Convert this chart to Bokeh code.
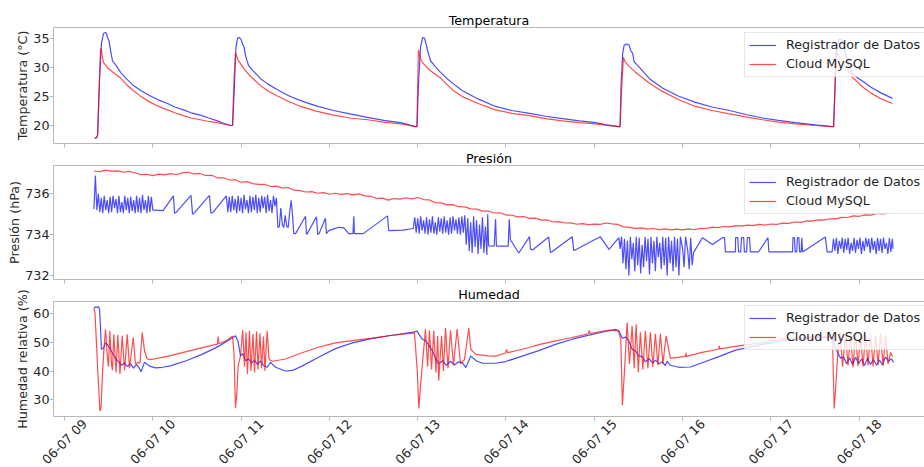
import math
from datetime import datetime, timedelta

from bokeh.plotting import figure
from bokeh.layouts import column
from bokeh.models import (ColumnDataSource, Range1d, FixedTicker, LinearAxis,
                          Legend, LegendItem, GlobalInlineStyleSheet)
from bokeh.embed import file_html
from bokeh.resources import INLINE

# ---------------------------------------------------------------- data
T0 = datetime(2023, 6, 7, 9, 0)          # reference time (06-07 09:00)

tick_hours = [0, 1, 2, 3, 4, 5, 6, 7, 8, 9]
tick_labels = ["06-07 09", "06-07 10", "06-07 11", "06-07 12", "06-07 13",
               "06-07 14", "06-07 15", "06-07 16", "06-07 17", "06-07 18"]

temp_ticks = [20, 25, 30, 35]
pres_ticks = [732, 734, 736]
hum_ticks = [30, 40, 50, 60]

# (minutes after 09:00, value)
temp_registrador = [
    (20.4, 17.8), (21.8, 17.9), (22.5, 18.3), (23.8, 28.0), (25.1, 34.2), (26.5, 35.9),
    (27.9, 36.1), (28.6, 35.9), (29.2, 35.2), (30.3, 34.6), (31.3, 33.0), (32.6, 31.2),
    (35.0, 30.4), (38.1, 29.2), (42.0, 28.1), (46.9, 26.9), (52.0, 26.0), (58.4, 25.1),
    (64.0, 24.4), (70.0, 23.8), (75.0, 23.2), (80.9, 22.7), (86.0, 22.2), (92.4, 21.8),
    (98.0, 21.3), (104.0, 20.8), (108.0, 20.4), (112.8, 20.0),
    (114.2, 20.0), (115.5, 27.0), (116.5, 33.5), (117.6, 35.1), (118.9, 35.2), (120.0, 34.9),
    (121.0, 34.1), (122.0, 33.6), (123.0, 32.1), (125.0, 30.4), (128.0, 29.5), (133.2, 28.1),
    (138.0, 27.2), (144.7, 26.2), (152.0, 25.2), (160.4, 24.3), (171.0, 23.4), (182.8, 22.6),
    (194.0, 22.0), (205.9, 21.4), (217.0, 20.9), (228.3, 20.5), (234.0, 20.1), (238.5, 19.8),
    (239.5, 19.8), (240.5, 27.0), (241.9, 33.5), (243.3, 35.2), (244.6, 35.1), (245.6, 34.2),
    (246.7, 33.0), (248.7, 31.2), (252.0, 30.2), (255.5, 29.2), (260.0, 28.1), (264.3, 27.2),
    (270.4, 26.0), (281.0, 24.6), (292.9, 23.3), (304.0, 22.6), (316.0, 22.1), (327.0, 21.6),
    (338.4, 21.2), (350.0, 20.8), (360.8, 20.5), (368.0, 20.1), (376.5, 19.8),
    (377.5, 19.8), (378.2, 27.0), (379.3, 32.5), (380.3, 33.9), (382.0, 34.1), (383.7, 33.9),
    (384.8, 32.9), (386.0, 32.5), (387.1, 31.0), (390.5, 30.1), (397.5, 28.1), (406.3, 26.5),
    (417.0, 25.1), (428.8, 24.0), (440.0, 23.2), (451.9, 22.6), (463.0, 21.9), (474.3, 21.3),
    (485.0, 20.9), (496.7, 20.5), (510.0, 20.1), (521.9, 19.8),
    (522.6, 19.8), (523.5, 26.0), (524.5, 33.0), (526.0, 34.8), (527.5, 35.0), (529.0, 34.3),
    (531.0, 32.0), (533.0, 30.2), (535.4, 28.9), (538.5, 28.3), (542.2, 27.7), (548.0, 26.6),
    (555.0, 25.6), (562.6, 24.7),
]

temp_cloud = [
    (20.4, 17.8), (21.8, 17.9), (22.5, 18.3), (23.8, 28.0), (24.5, 33.3), (25.1, 33.0),
    (25.8, 31.8), (26.5, 30.9), (29.2, 30.0), (33.0, 29.2), (38.1, 28.2), (42.0, 27.1),
    (46.9, 26.0), (52.0, 25.0), (58.4, 24.0), (64.0, 23.3), (70.0, 22.7), (75.0, 22.2),
    (80.9, 21.7), (86.0, 21.3), (92.4, 21.0), (98.0, 20.7), (104.0, 20.5), (112.8, 20.0),
    (114.2, 20.0), (115.2, 28.0), (116.2, 32.6), (117.0, 32.0), (118.0, 31.3), (119.6, 30.7),
    (122.0, 29.8), (126.0, 28.6), (133.2, 26.9), (138.0, 26.0), (144.7, 25.1), (152.0, 24.2),
    (160.4, 23.3), (171.0, 22.5), (182.8, 21.8), (194.0, 21.3), (205.9, 21.0), (217.0, 20.6),
    (228.3, 20.3), (238.5, 19.8),
    (239.5, 19.8), (240.0, 27.0), (240.5, 33.1), (241.3, 32.2), (242.5, 31.2), (243.9, 30.7),
    (248.0, 29.6), (255.5, 28.2), (264.3, 26.0), (270.4, 25.0), (281.0, 23.8), (292.9, 22.7),
    (304.0, 22.1), (316.0, 21.7), (327.0, 21.2), (338.4, 20.8), (350.0, 20.5), (360.8, 20.3),
    (376.5, 19.8),
    (377.5, 19.8), (378.5, 26.0), (379.8, 31.8), (381.0, 31.0), (383.0, 30.4), (388.0, 29.2),
    (397.5, 27.3), (406.3, 25.9), (417.0, 24.5), (428.8, 23.3), (440.0, 22.6), (451.9, 22.0),
    (463.0, 21.5), (474.3, 21.0), (485.0, 20.6), (496.7, 20.3), (510.0, 20.0), (521.9, 19.8),
    (522.6, 19.8), (523.5, 26.0), (524.3, 32.8), (525.5, 32.3), (527.5, 31.5), (531.0, 30.0),
    (535.4, 28.3), (538.5, 27.6), (542.2, 26.7), (548.0, 25.6), (555.0, 24.6), (562.6, 23.8),
]

pres_registrador = [
    (20, 735.25), (21, 736.9), (22, 735.2), (23, 736.0), (24, 735.1), (25, 735.8), (26, 735.05),
    (27, 735.9), (28, 735.2), (29, 735.7), (30, 735.05), (31, 735.85), (32, 735.1), (33, 735.9),
    (34, 735.3), (35, 735.75), (36, 735.05), (37, 735.9), (38, 735.1), (39, 735.6), (40, 735.05),
    (41, 735.9), (42, 735.2), (43, 735.8), (44, 735.05), (45, 735.85), (46, 735.15), (47, 735.7),
    (48, 735.05), (49, 735.9), (50, 735.1), (51, 735.8), (52, 735.05), (53, 735.95), (54, 735.2),
    (55, 735.7), (56, 735.05), (57, 735.9), (58, 735.1), (59, 735.85), (60, 735.2),
    (61, 735.2), (67, 735.18), (74, 735.9), (74.8, 735.05), (76, 735.1), (86, 735.92),
    (87, 735.0), (88, 735.05), (98.5, 735.92), (99.5, 735.05), (101, 735.1), (110, 735.9),
    (111, 735.1),
    (112, 735.85), (113, 735.1), (114, 735.9), (115, 735.2), (116, 735.75), (117, 735.05),
    (118, 735.9), (119, 735.15), (120, 735.8), (121, 735.05), (122, 735.95), (123, 735.25),
    (124, 735.7), (125, 735.05), (126, 735.9), (127, 735.1), (128, 735.85), (129, 735.2),
    (130, 735.95), (131, 735.05), (132, 735.8), (133, 735.1), (134, 735.9), (135, 735.3),
    (136, 735.85), (137, 735.05), (138, 735.95), (139, 735.15), (140, 735.7), (141, 735.05),
    (142, 735.9), (143, 735.4),
    (144, 735.8), (145, 734.35), (146, 734.4), (147, 735.3), (148, 734.5), (149, 734.35),
    (150, 734.95), (151, 734.4), (152, 734.35), (153, 735.1), (154, 735.68), (155, 734.9),
    (155.8, 734.05),
    (157, 734.05), (163.8, 734.9), (164.4, 734.02), (165, 734.05), (171.2, 734.88),
    (172.1, 734.0), (173, 734.05), (177.3, 734.8), (178, 734.05), (179.6, 734.2), (183, 734.28),
    (186.4, 734.36), (189.8, 734.33), (193.2, 734.05), (196, 734.05), (196.6, 734.9),
    (197, 734.05), (203, 734.05),
    (219.5, 734.92), (220.3, 734.2), (230, 734.22), (237, 734.3),
    (238, 734.85), (239, 734.1), (240, 734.8), (241, 734.05), (242, 734.9), (243, 734.2),
    (244, 734.7), (245, 734.05), (246, 734.85), (247, 734.0), (248, 734.75), (249, 734.1),
    (250, 734.9), (251, 734.05), (252, 734.6), (253, 734.0), (254, 734.85), (255, 734.15),
    (256, 734.8), (257, 734.05), (258, 734.9), (259, 734.1), (260, 734.7), (261, 734.0),
    (262, 734.85), (263, 734.05), (264, 734.9), (265, 734.2), (266, 734.75), (267, 734.05),
    (268, 734.85), (269, 734.0), (270, 734.9), (271, 734.1),
    (272, 734.95), (273, 733.5), (274, 734.8), (275, 733.2), (276, 734.6), (277, 733.1),
    (278, 734.9), (279, 733.4), (280, 734.7), (281, 733.05), (282, 734.5), (283, 733.3),
    (284, 734.85), (285, 733.1), (286, 734.4), (287, 733.0), (287.6, 735.0), (288.2, 733.45),
    (292, 733.44), (292.9, 734.75), (293.5, 733.44), (301.5, 733.44), (302.2, 734.75),
    (303, 733.75), (308.7, 733.1), (316, 733.9), (316.6, 733.3), (318, 733.25), (329, 733.88),
    (330.2, 733.12), (331, 733.15), (345, 733.9), (346, 733.23), (347, 733.25), (364, 733.9),
    (370, 733.28), (376.7, 733.85),
    (377.5, 733.3), (378.5, 733.9), (379.5, 732.6), (380.5, 733.8), (381.5, 732.3),
    (382.5, 733.7), (383.5, 732.0), (384.5, 733.9), (385.5, 732.8), (386.5, 733.6),
    (387.5, 732.2), (388.5, 733.9), (389.5, 732.5), (390.5, 733.85), (391.5, 732.1),
    (392.5, 733.5), (393.5, 732.4), (394.5, 733.9), (395.5, 732.7), (396.5, 733.8),
    (397.5, 732.05), (398.5, 733.9), (399.5, 732.6), (400.5, 733.7), (401.5, 732.2),
    (402.5, 733.9), (403.5, 732.9), (404.5, 733.6), (405.5, 732.3), (406.5, 733.9),
    (407.5, 732.5), (408.5, 733.85), (409.5, 732.0), (410.5, 733.9), (411.5, 732.6),
    (412.5, 733.7), (413.5, 732.2), (414.5, 733.9), (415.5, 732.4), (416.5, 733.8),
    (417.5, 732.0), (418.5, 733.9), (420, 733.3), (421, 732.4), (422, 733.9), (423.5, 733.2),
    (424.5, 732.3), (425.5, 733.85), (426.5, 732.5),
    (427.4, 733.12), (433.5, 733.85), (440.3, 733.52), (447, 733.85), (448.5, 733.85),
    (449.1, 733.15), (455.9, 733.15),
    (456, 733.85), (457.5, 733.85), (458, 733.15), (459.5, 733.15), (460, 733.85),
    (461.5, 733.85), (462, 733.15), (463.5, 733.15), (464, 733.85), (465.5, 733.85),
    (466, 733.15),
    (471.6, 733.15), (478, 733.85), (478.6, 733.15), (494.7, 733.15),
    (495, 733.85), (496, 733.85), (496.5, 733.15), (497.5, 733.15), (498, 733.85),
    (499, 733.85), (499.5, 733.15), (500.5, 733.15), (501, 733.85), (501.5, 733.15),
    (517, 733.88), (518.2, 733.15), (521.6, 733.15),
    (522.5, 733.8), (523.5, 733.2), (524.5, 733.85), (525.5, 733.05), (526.5, 733.7),
    (527.5, 733.3), (528.5, 733.85), (529.5, 733.1), (530.5, 733.8), (531.5, 733.25),
    (532.5, 733.85), (533.5, 733.05), (534.5, 733.6), (535.5, 733.2), (536.5, 733.85),
    (537.5, 733.1), (538.5, 733.75), (539.5, 733.3), (540.5, 733.85), (541.5, 733.05),
    (542.5, 733.7), (543.5, 733.2), (544.5, 733.85), (545.5, 733.4), (546.5, 733.8),
    (547.5, 733.1), (548.5, 733.85), (549.5, 733.25), (550.5, 733.7), (551.5, 733.05),
    (552.5, 733.85), (553.5, 733.2), (554.5, 733.8), (555.5, 733.1), (556.5, 733.85),
    (557.5, 733.3), (558.5, 733.6), (559.5, 733.05), (560.5, 733.85), (561.5, 733.15),
    (562.5, 733.8), (563, 733.3),
]

pres_cloud = [
    (20, 737.12), (24, 737.09), (28, 737.16), (32, 737.11), (36, 737.13), (40, 737.06),
    (44, 737.10), (48, 737.02), (52, 736.94), (56, 736.96), (60, 736.89), (64, 736.97),
    (68, 736.93), (72, 736.99), (76, 736.95), (80, 737.03), (84, 737.06), (88, 736.98),
    (92, 737.00), (96, 736.90), (100, 736.91), (104, 736.78), (108, 736.79), (112, 736.68),
    (116, 736.69), (120, 736.57), (124, 736.60), (128, 736.50), (132, 736.46), (136, 736.47),
    (140, 736.36), (144, 736.38), (148, 736.28), (152, 736.31), (156, 736.18), (160, 736.16),
    (164, 736.09), (168, 736.11), (172, 736.03), (176, 736.06), (180, 735.98), (184, 736.03),
    (188, 735.97), (192, 736.01), (196, 735.95), (200, 736.00), (204, 735.90), (208, 735.88),
    (212, 735.77), (216, 735.79), (220, 735.69), (224, 735.77), (228, 735.74), (232, 735.81),
    (236, 735.75), (240, 735.82), (244, 735.72), (248, 735.70), (252, 735.57), (256, 735.56),
    (260, 735.46), (264, 735.47), (268, 735.37), (272, 735.36), (276, 735.26), (280, 735.25),
    (284, 735.15), (288, 735.16), (292, 735.06), (296, 735.07), (300, 734.96), (304, 734.95),
    (308, 734.87), (312, 734.89), (316, 734.80), (320, 734.81), (324, 734.71), (328, 734.72),
    (332, 734.62), (336, 734.64), (340, 734.57), (344, 734.58), (348, 734.51), (352, 734.54),
    (356, 734.49), (360, 734.52), (364, 734.50), (368, 734.57), (372, 734.53), (376, 734.50),
    (380, 734.38), (384, 734.36), (388, 734.31), (392, 734.33), (396, 734.27), (400, 734.30),
    (404, 734.25), (408, 734.28), (412, 734.23), (416, 734.27), (420, 734.23), (424, 734.28),
    (428, 734.24), (432, 734.31), (436, 734.30), (440, 734.37), (444, 734.34), (448, 734.40),
    (452, 734.38), (456, 734.44), (460, 734.42), (464, 734.47), (468, 734.44), (472, 734.50),
    (476, 734.47), (480, 734.52), (484, 734.50), (488, 734.56), (492, 734.55), (496, 734.62),
    (500, 734.60), (504, 734.67), (508, 734.66), (512, 734.72), (516, 734.71), (520, 734.78),
    (524, 734.77), (528, 734.85), (532, 734.84), (536, 734.92), (540, 734.90), (544, 734.97),
    (548, 734.96), (552, 735.04), (556, 735.02), (560, 735.05),
]

hum_registrador = [
    (19.9, 62.0), (21.1, 62.3), (23.3, 62.4), (23.8, 61.5), (24.5, 55.0), (25.1, 47.6),
    (26.5, 48.0), (27.9, 49.8), (29.2, 49.2), (31.3, 47.5), (33.3, 45.5), (35.3, 44.0),
    (36.9, 43.2), (38.7, 42.0), (40.8, 42.8), (42.8, 41.5), (44.8, 42.6), (46.9, 41.0),
    (48.9, 42.3), (51.0, 40.8), (52.0, 39.7), (54.4, 43.1), (56.4, 42.2), (58.4, 41.6),
    (61.8, 41.1), (66.6, 41.3), (72.0, 41.8), (82.2, 43.5), (93.8, 45.9), (104.6, 48.6),
    (114.2, 51.6), (116.2, 52.3), (118.0, 50.2), (119.6, 45.3), (121.2, 46.0), (123.0, 43.6),
    (125.0, 44.3), (127.1, 42.8), (129.1, 43.8), (131.1, 42.3), (133.2, 43.5), (135.2, 41.9),
    (137.7, 41.3), (140.0, 43.0), (143.4, 41.3), (150.2, 40.0), (154.9, 40.2), (161.7, 41.8),
    (172.6, 44.8), (184.1, 47.8), (195.7, 49.8), (207.9, 51.2), (221.5, 52.4), (237.1, 53.6),
    (239.7, 53.9), (241.2, 52.5), (243.1, 51.1), (245.3, 50.6), (247.3, 49.2), (249.9, 47.1),
    (252.1, 44.5), (254.3, 42.5), (256.9, 43.6), (259.6, 42.0), (262.3, 43.4), (265.0, 42.1),
    (267.7, 43.2), (270.4, 42.9), (272.7, 41.2), (276.1, 45.2), (280.0, 43.5), (284.0, 42.7),
    (292.9, 42.7), (299.7, 43.3), (311.0, 45.2), (322.3, 47.1), (333.6, 49.3), (345.0, 51.1),
    (356.3, 52.5), (367.6, 53.8), (374.7, 54.5), (376.7, 54.0), (379.0, 51.5), (381.4, 51.8),
    (383.4, 50.5), (385.7, 47.6), (388.1, 47.0), (390.1, 45.3), (392.7, 45.0), (394.7, 43.2),
    (397.2, 44.3), (399.5, 42.8), (401.7, 43.8), (404.0, 42.5), (406.3, 43.2), (408.3, 41.9),
    (409.5, 43.4), (411.7, 42.0), (417.6, 41.3), (425.4, 41.4), (433.3, 42.9), (444.7, 45.0),
    (455.9, 47.3), (462.7, 48.0), (473.0, 49.2), (487.9, 50.5), (506.9, 51.5), (520.5, 51.8),
    (521.9, 51.6), (523.2, 49.0), (525.3, 46.5), (527.3, 44.5), (529.4, 45.0), (531.4, 42.5),
    (533.5, 44.6), (535.5, 42.2), (537.5, 44.8), (539.6, 42.6), (541.6, 44.2), (543.6, 41.9),
    (545.6, 44.5), (547.7, 42.3), (549.7, 44.0), (551.8, 42.0), (553.8, 43.8), (555.8, 42.2),
    (557.9, 44.9), (559.9, 43.4), (561.9, 44.3), (563.3, 43.0),
]

hum_cloud = [
    (19.9, 61.8), (20.7, 60.5), (21.7, 50.0), (23.1, 35.0), (24.1, 26.0), (24.8, 27.0),
    (25.8, 39.0), (26.8, 47.5), (27.9, 54.6), (29.2, 44.5), (29.9, 41.5), (30.8, 54.0),
    (32.0, 42.0), (32.6, 40.3), (33.5, 52.8), (35.0, 39.5), (36.2, 52.6), (37.7, 39.0),
    (39.2, 52.3), (40.8, 40.2), (42.6, 52.8), (44.2, 41.0), (46.7, 51.7), (48.2, 42.5),
    (49.9, 43.0), (51.3, 42.8), (52.8, 53.4), (54.4, 47.0), (56.2, 44.2), (58.4, 44.0),
    (63.9, 44.5), (70.7, 45.2), (82.2, 46.7), (92.4, 48.0), (103.9, 49.4), (104.4, 52.0),
    (104.9, 49.5), (110.1, 50.6), (114.2, 52.2), (115.2, 46.0), (116.2, 27.0), (117.2, 33.0),
    (118.0, 41.9), (119.6, 45.3), (121.1, 54.3), (122.3, 41.5), (123.3, 53.5), (124.3, 39.0),
    (125.7, 54.0), (126.7, 40.0), (128.1, 53.0), (129.1, 39.5), (130.5, 53.8), (131.5, 40.5),
    (132.8, 53.2), (133.9, 41.0), (135.2, 52.0), (136.2, 40.0), (137.7, 54.0), (138.9, 44.5),
    (140.0, 43.6), (141.3, 43.4), (150.2, 44.2), (160.4, 46.2), (172.6, 48.3), (184.1, 49.8),
    (195.7, 50.6), (207.9, 51.4), (221.5, 52.4), (236.5, 53.2), (237.8, 53.3), (239.7, 40.0),
    (240.8, 26.9), (241.9, 35.0), (243.1, 41.9), (245.3, 54.6), (246.7, 41.5), (248.0, 54.2),
    (249.4, 40.5), (250.9, 54.0), (252.4, 39.5), (253.6, 52.3), (254.3, 36.7), (256.2, 52.3),
    (257.5, 40.0), (258.9, 55.0), (260.6, 41.0), (262.3, 54.2), (264.3, 42.0), (266.8, 54.6),
    (269.1, 42.5), (271.8, 44.0), (274.7, 55.0), (276.1, 47.5), (279.5, 45.8), (288.1, 45.3),
    (292.9, 45.2), (299.7, 46.3), (300.4, 47.5), (301.0, 46.4), (311.0, 47.6), (315.8, 48.2),
    (322.3, 49.2), (333.6, 50.5), (338.4, 51.0), (345.0, 51.7), (354.2, 52.8), (356.0, 53.1),
    (356.6, 54.2), (357.1, 53.1), (370.1, 54.3), (376.4, 54.0), (378.0, 51.0), (379.1, 28.0),
    (380.5, 40.0), (382.3, 56.9), (383.9, 42.5), (385.7, 55.8), (387.1, 41.0), (388.4, 56.3),
    (389.9, 39.6), (391.3, 53.5), (393.0, 40.5), (394.7, 54.0), (396.4, 41.0), (398.1, 53.5),
    (399.8, 41.5), (401.5, 53.0), (403.2, 42.0), (404.9, 53.0), (406.6, 42.5), (408.8, 52.3),
    (411.7, 44.4), (421.9, 45.1), (422.3, 46.3), (422.7, 45.1), (433.2, 46.5), (444.5, 47.6),
    (444.9, 48.8), (445.3, 47.7), (458.2, 48.8), (472.9, 49.8), (487.9, 51.2), (506.9, 51.9),
    (520.5, 52.2), (521.9, 50.0), (523.0, 26.9), (524.0, 34.0), (525.3, 45.0), (527.0, 53.5),
    (528.7, 41.5), (530.7, 53.0), (532.4, 41.9), (534.1, 52.5), (535.8, 41.3), (537.5, 53.0),
    (539.2, 41.8), (540.9, 52.5), (542.6, 41.5), (544.3, 52.8), (546.0, 41.9), (547.7, 53.0),
    (549.4, 41.6), (551.1, 52.5), (552.8, 42.0), (554.5, 53.0), (556.2, 41.8), (557.9, 52.3),
    (559.6, 42.5), (561.3, 46.5), (562.6, 45.0),
]

# ---------------------------------------------------------------- styling
FONT = "DejaVu Sans"
FS = "12.7px"
TEXT = "#262626"
FRAME = "#b8b8b8"
BLUE = "blue"
RED = "red"
WIDTH = 924

x_start = datetime(2023, 6, 7, 8, 52, 32)
x_end = datetime(2023, 6, 7, 18, 44, 22)
x_range = Range1d(x_start, x_end)

EPOCH = datetime(1970, 1, 1)
tick_ms = [int(((T0 + timedelta(hours=h)) - EPOCH).total_seconds() * 1000) for h in tick_hours]

# rotated labels are drawn right-aligned by Bokeh; shifting their anchor by half a
# label's slanted extent (about 20 px = 13.7 min here) centres each label on its tick
LABEL_SHIFT_MS = 822700


def to_source(series):
    return ColumnDataSource(dict(t=[T0 + timedelta(minutes=m) for m, _ in series],
                                 v=[v for _, v in series]))


def make_panel(title, ylabel, y0, y1, yticks, reg, cloud, height, top, bottom, legend_y):
    p = figure(width=WIDTH, height=height, x_range=x_range, y_range=Range1d(y0, y1),
               x_axis_type="datetime", output_backend="svg", toolbar_location=None,
               min_border_left=53, min_border_right=0, min_border_top=top,
               min_border_bottom=bottom, title=title)
    p.outline_line_color = None
    p.grid.visible = False
    p.background_fill_color = "white"
    p.border_fill_color = "white"

    p.title.align = "center"
    p.title.text_font = FONT
    p.title.text_font_size = FS
    p.title.text_font_style = "normal"
    p.title.text_color = "black"
    p.title.standoff = 0

    xa = p.xaxis[0]
    xa.ticker = FixedTicker(ticks=tick_ms)
    xa.major_label_text_font_size = "1px"
    xa.major_label_text_color = None
    xa.major_label_standoff = 0
    xa.major_tick_in = 0
    xa.major_tick_out = 4
    xa.minor_tick_line_color = None
    xa.axis_line_color = FRAME
    xa.major_tick_line_color = FRAME

    ya = p.yaxis[0]
    ya.ticker = FixedTicker(ticks=yticks)
    ya.axis_label = ylabel
    ya.axis_label_text_font = FONT
    ya.axis_label_text_font_size = FS
    ya.axis_label_text_font_style = "normal"
    ya.axis_label_text_color = TEXT
    ya.axis_label_standoff = 0
    ya.major_label_text_font = FONT
    ya.major_label_text_font_size = FS
    ya.major_label_text_color = TEXT
    ya.major_label_standoff = 0
    ya.major_tick_in = 0
    ya.major_tick_out = 4
    ya.minor_tick_line_color = None
    ya.axis_line_color = FRAME
    ya.major_tick_line_color = FRAME

    top_axis = LinearAxis(ticker=FixedTicker(ticks=[]), axis_line_color=FRAME,
                          major_tick_line_color=None, minor_tick_line_color=None,
                          major_label_text_font_size="1px", major_label_text_color=None,
                          major_label_standoff=0, major_tick_in=0, major_tick_out=0)
    p.add_layout(top_axis, "above")

    r1 = p.line("t", "v", source=to_source(reg), line_color=BLUE, line_alpha=0.7,
                line_width=1.2)
    r2 = p.line("t", "v", source=to_source(cloud), line_color=RED, line_alpha=0.7,
                line_width=1.2)

    legend = Legend(items=[LegendItem(label="Registrador de Datos", renderers=[r1]),
                           LegendItem(label="Cloud MySQL", renderers=[r2])],
                    location=(691, legend_y))
    legend.label_text_font = FONT
    legend.label_text_font_size = FS
    legend.label_text_color = TEXT
    legend.glyph_width = 27
    legend.glyph_height = 16
    legend.label_height = 16
    legend.label_standoff = 10
    legend.spacing = 3
    legend.padding = 4
    legend.margin = 0
    legend.background_fill_color = "white"
    legend.background_fill_alpha = 0.8
    legend.border_line_color = "#d0d0d0"
    legend.border_line_width = 1
    p.add_layout(legend)
    return p


p1 = make_panel("Temperatura", "Temperatura (°C)", 16.89, 36.95, temp_ticks,
                temp_registrador, temp_cloud, height=148, top=27, bottom=5, legend_y=66.5)
p2 = make_panel("Presión", "Presión (hPa)", 731.8, 737.39, pres_ticks,
                pres_registrador, pres_cloud, height=136, top=16, bottom=5, legend_y=65.5)
p3 = make_panel("Humedad", "Humedad relativa (%)", 24.12, 64.26, hum_ticks,
                hum_registrador, hum_cloud, height=198, top=16, bottom=66, legend_y=66.5)

# slanted date labels under the bottom panel, kept just inside the window
label_ticks = [t + LABEL_SHIFT_MS for t in tick_ms]
date_axis = LinearAxis(ticker=FixedTicker(ticks=label_ticks),
                       major_label_overrides={t: lab for t, lab in zip(label_ticks, tick_labels)},
                       major_label_orientation=math.pi / 4, major_label_standoff=1,
                       major_tick_in=0, major_tick_out=0, major_tick_line_color=None,
                       minor_tick_line_color=None, axis_line_color=None,
                       major_label_text_font=FONT, major_label_text_font_size=FS,
                       major_label_text_color=TEXT)
p3.add_layout(date_axis, "below")

layout = column(p1, p2, p3, spacing=0,
                stylesheets=[GlobalInlineStyleSheet(css="html, body { overflow: hidden; }")])
open("out.html", "w").write(file_html(layout, INLINE))
